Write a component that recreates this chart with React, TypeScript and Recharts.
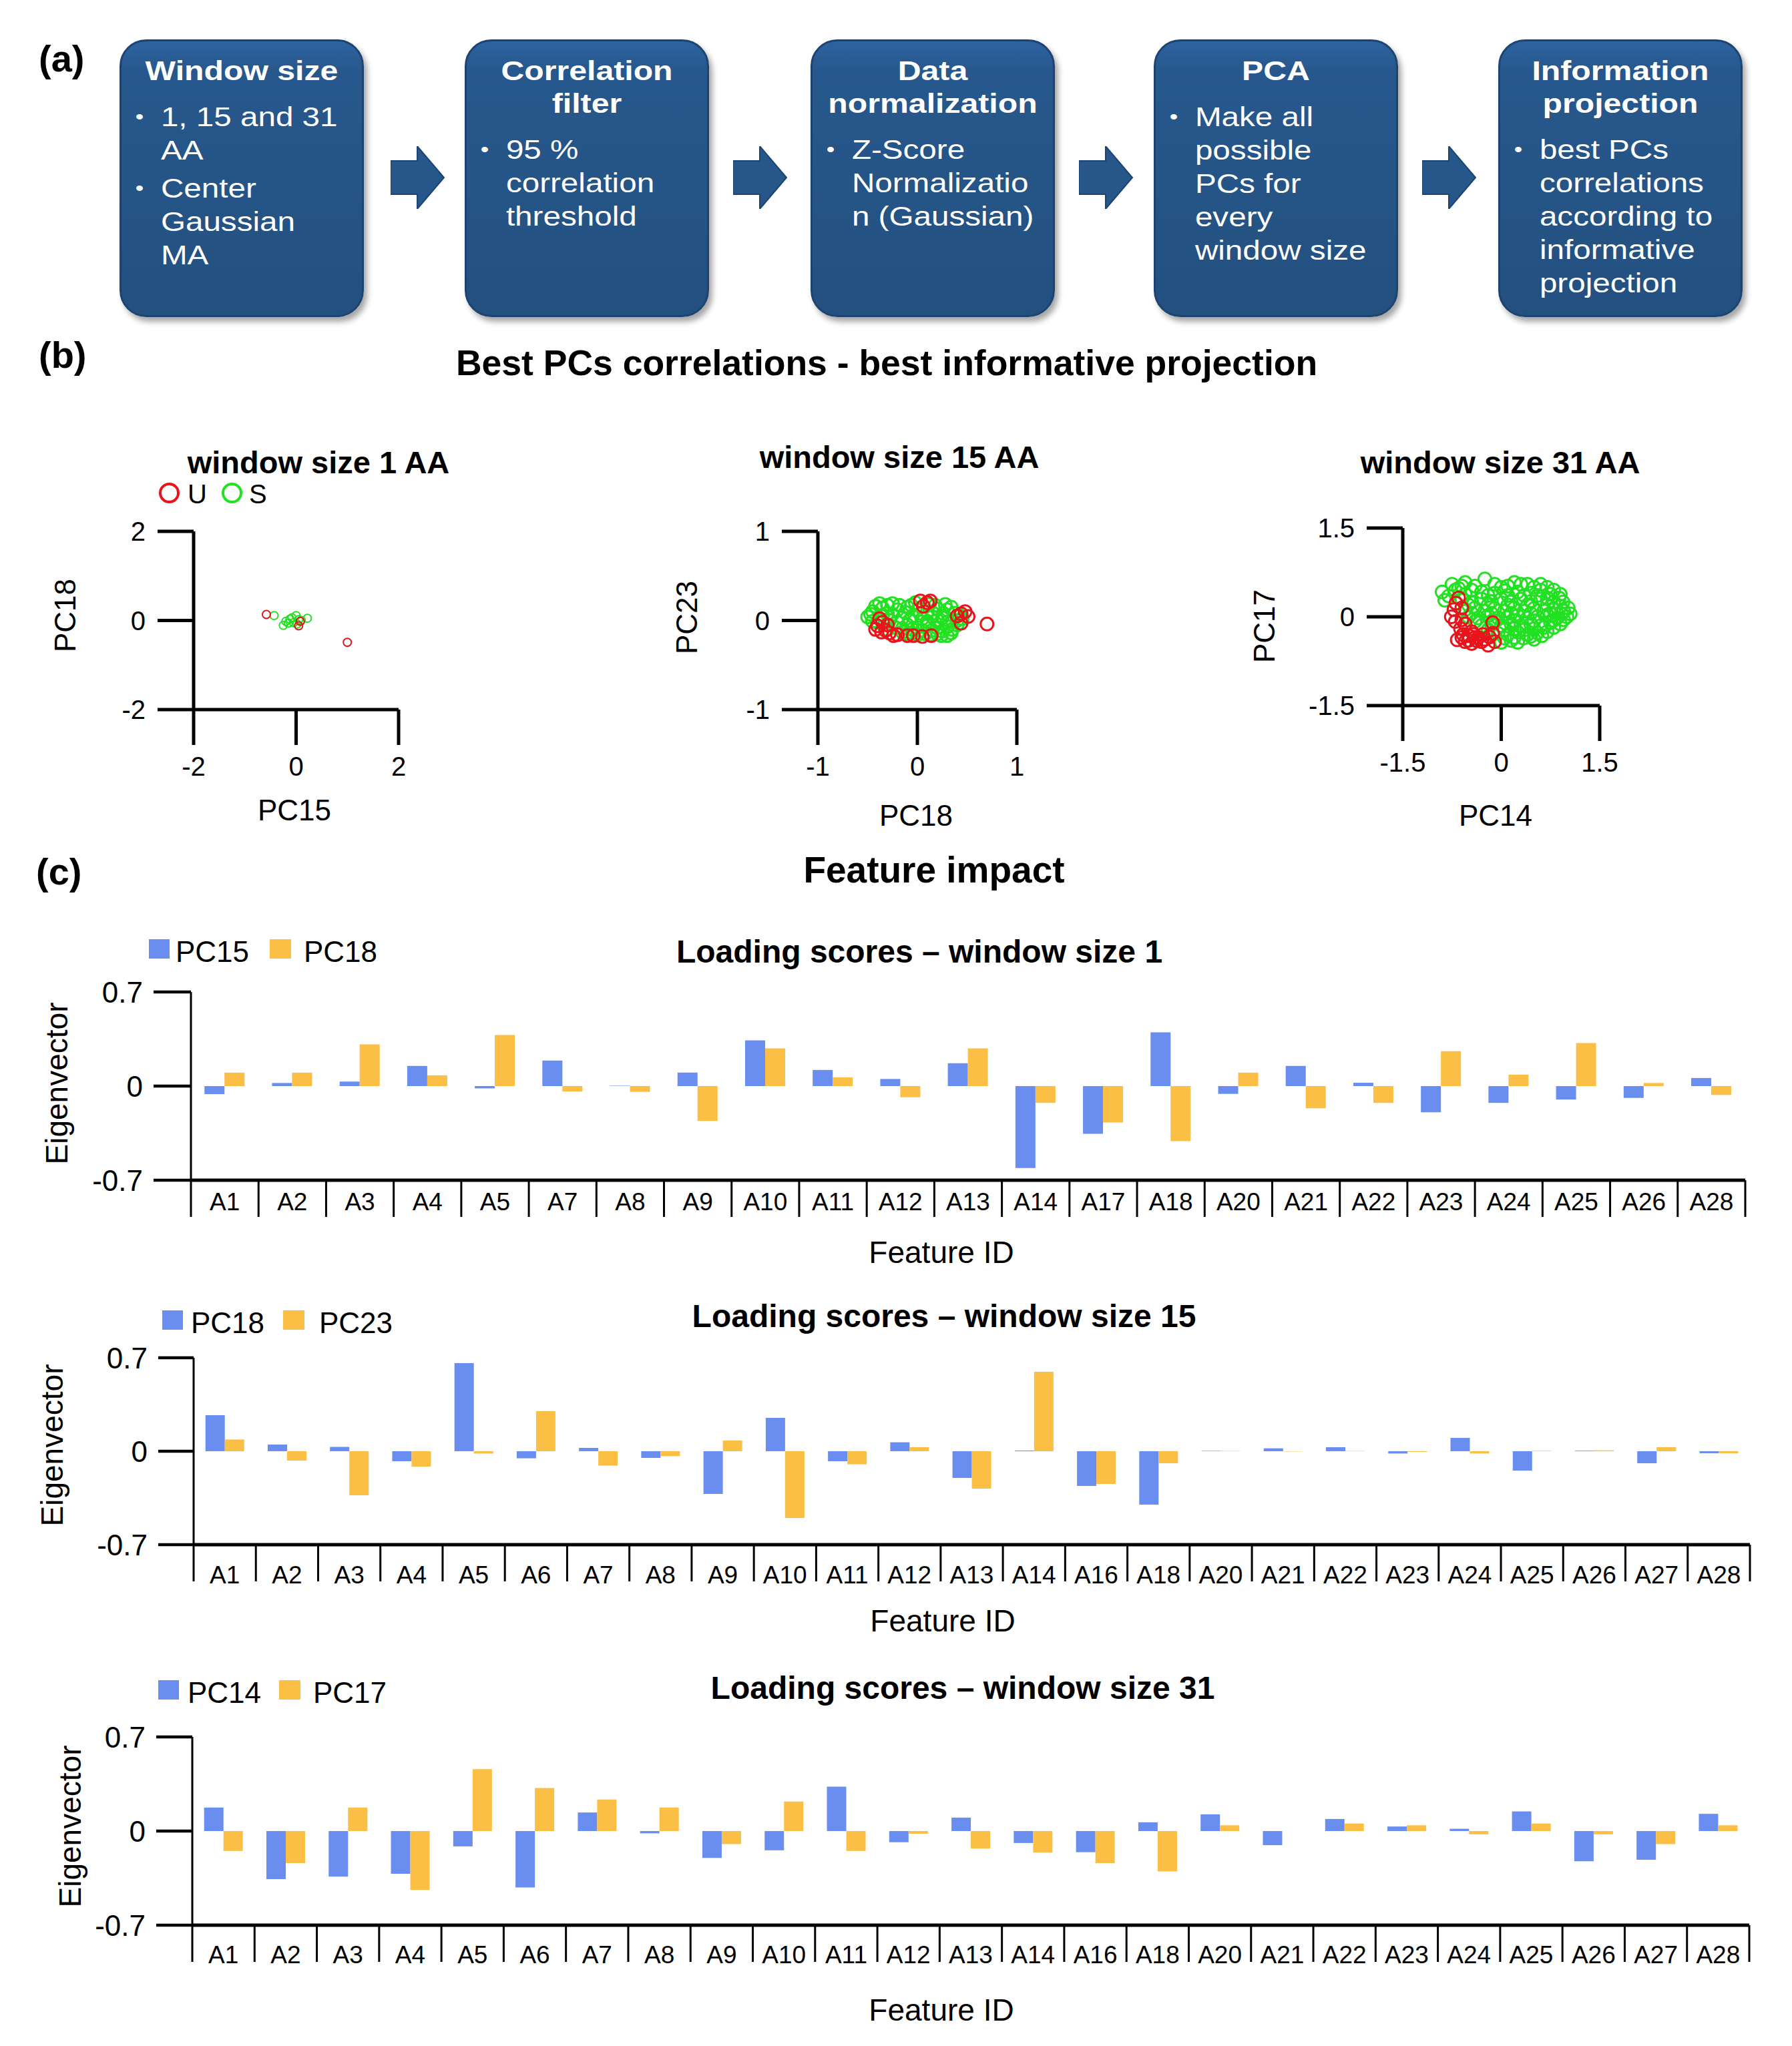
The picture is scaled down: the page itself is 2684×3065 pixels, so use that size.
import React from "react";
import { BarChart, Bar, XAxis, YAxis, ScatterChart, Scatter } from "recharts";

const FONT = '"Liberation Sans", Arial, Helvetica, sans-serif';
const BLUE = "#6a8ef0";
const ORANGE = "#fbbf45";
const RED = "#e8141c";
const GREEN = "#22e022";
const BOX = "#26568a";
const PAGE_W = 2684;
const PAGE_H = 3065;

// ---- (a) workflow text ----
const flowTitles = [
  ["Window size"],
  ["Correlation", "filter"],
  ["Data", "normalization"],
  ["PCA"],
  ["Information", "projection"],
];
const flowBullets = [
  [["1, 15 and 31", "AA"], ["Center", "Gaussian", "MA"]],
  [["95 %", "correlation", "threshold"]],
  [["Z-Score", "Normalizatio", "n (Gaussian)"]],
  [["Make all", "possible", "PCs for", "every", "window size"]],
  [["best PCs", "correlations", "according to", "informative", "projection"]],
];

// ---- (b) PC projections, [x, y] ----
const w1U = [[-0.58, 0.135], [0.05, -0.12], [1.0, -0.49], [0.08, -0.02]];
const w1S = [
  [-0.43, 0.11], [-0.25, -0.11], [-0.12, 0.03], [0.0, 0.11], [0.22, 0.05], [-0.05, -0.05],
  [0.05, 0.02], [-0.15, -0.06], [0.1, 0.0], [0.02, -0.08], [-0.08, 0.06], [-0.2, -0.02],
];

const w15U = [
  [0.03, 0.22], [0.1, 0.2], [0.13, 0.22], [0.06, 0.16], [0.44, 0.075], [0.51, 0.045],
  [0.44, -0.03], [0.4, 0.05], [0.48, 0.1], [-0.35, -0.02], [-0.32, -0.11], [-0.4, -0.06],
  [-0.28, -0.14], [-0.2, -0.16], [-0.1, -0.17], [-0.04, -0.17], [0.05, -0.18], [0.14, -0.17],
  [-0.38, 0.02], [-0.3, -0.05], [0.7, -0.04], [-0.42, -0.1], [-0.36, -0.13], [-0.24, -0.17],
];
const w15S = [
  [-0.5, 0.04], [-0.45, 0.1], [-0.38, 0.19], [-0.25, 0.19], [-0.3, 0.08], [-0.2, 0.12],
  [-0.1, 0.15], [0.0, 0.12], [0.1, 0.1], [0.2, 0.13], [0.3, 0.12], [0.38, 0.08],
  [-0.4, -0.02], [-0.28, 0.0], [-0.15, 0.03], [-0.05, 0.05], [0.05, 0.02], [0.15, 0.04],
  [0.25, 0.03], [0.35, 0.0], [0.45, 0.02], [-0.22, -0.08], [-0.1, -0.05], [0.0, -0.08],
  [0.1, -0.06], [0.2, -0.08], [0.3, -0.07], [0.4, -0.05], [-0.05, -0.14], [0.08, -0.15],
  [0.2, -0.15], [0.24, -0.17], [0.34, -0.14], [-0.15, -0.13], [-0.35, 0.14], [0.12, 0.18],
  [-0.02, 0.2], [0.28, 0.18], [-0.42, 0.16], [-0.3, 0.17], [-0.18, 0.17], [-0.06, 0.17],
  [0.18, 0.17], [0.34, 0.15], [-0.47, 0.07], [-0.35, 0.06], [-0.25, 0.07], [-0.12, 0.09],
  [0.03, 0.08], [0.16, 0.08], [0.26, 0.08], [0.42, 0.06], [-0.45, -0.01], [-0.2, -0.02],
  [-0.08, 0.0], [0.1, -0.01], [0.2, 0.0], [0.3, -0.02], [0.4, 0.0], [-0.3, -0.1],
  [-0.15, -0.09], [-0.05, -0.1], [0.05, -0.11], [0.15, -0.11], [0.25, -0.12], [0.35, -0.1],
  [-0.1, -0.15], [0.0, -0.16], [0.13, -0.16], [0.3, -0.17],
];

const w31U = [
  [-0.69, 0.23], [-0.72, 0.12], [-0.76, 0.0], [-0.7, -0.08], [-0.6, -0.05], [-0.55, -0.12],
  [-0.62, -0.2], [-0.67, -0.39], [-0.58, -0.3], [-0.5, -0.32], [-0.42, -0.3], [-0.35, -0.35],
  [-0.28, -0.3], [-0.2, -0.48], [-0.18, -0.34], [-0.13, -0.28], [-0.13, -0.1], [-0.45, -0.25],
  [-0.38, -0.4], [-0.3, -0.42], [-0.65, 0.32], [-0.6, 0.15], [-0.55, -0.42], [-0.45, -0.45],
  [-0.25, -0.38], [-0.1, -0.42], [-0.6, -0.35], [-0.5, -0.4], [-0.4, -0.35],
];
const w31S = [
  [-0.75, 0.55], [-0.55, 0.58], [-0.25, 0.64], [-0.1, 0.55], [0.1, 0.52], [0.3, 0.55], [0.5, 0.5], [0.7, 0.5],
  [-0.9, 0.42], [-0.7, 0.45], [-0.45, 0.45], [-0.3, 0.42], [-0.1, 0.4], [0.05, 0.44], [0.25, 0.42],
  [0.45, 0.4], [0.6, 0.45], [0.75, 0.38], [-0.86, 0.28], [-0.6, 0.3], [-0.45, 0.25], [-0.3, 0.3],
  [-0.15, 0.26], [0.0, 0.3], [0.15, 0.25], [0.3, 0.3], [0.45, 0.26], [0.6, 0.3], [0.8, 0.25], [0.94, 0.25],
  [-0.55, 0.12], [-0.4, 0.15], [-0.25, 0.1], [-0.1, 0.14], [0.05, 0.1], [0.2, 0.15], [0.35, 0.1],
  [0.5, 0.14], [0.65, 0.1], [0.8, 0.12], [0.95, 0.1], [-0.5, 0.0], [-0.35, -0.02], [-0.2, 0.02],
  [-0.05, -0.02], [0.1, 0.0], [0.25, 0.02], [0.4, -0.02], [0.55, 0.0], [0.7, 0.03], [0.85, -0.02],
  [1.0, 0.0], [-0.3, -0.15], [-0.15, -0.12], [0.0, -0.15], [0.15, -0.12], [0.3, -0.15], [0.45, -0.12],
  [0.6, -0.15], [0.75, -0.1], [0.9, -0.12], [-0.05, -0.28], [0.1, -0.3], [0.25, -0.26], [0.4, -0.3],
  [0.55, -0.27], [0.7, -0.25], [0.0, -0.43], [0.15, -0.4], [0.34, -0.36], [0.5, -0.38], [0.2, 0.58],
  [-0.6, 0.52], [0.9, 0.38], [0.62, -0.32], [-0.65, 0.48], [-0.4, 0.52], [0.0, 0.5], [0.4, 0.55],
  [0.6, 0.55], [0.8, 0.45], [-0.8, 0.35], [-0.55, 0.38], [-0.2, 0.36], [0.1, 0.36], [0.35, 0.36],
  [0.55, 0.36], [0.7, 0.32], [0.88, 0.32], [-0.5, 0.2], [-0.2, 0.2], [0.1, 0.2], [0.4, 0.2],
  [0.7, 0.2], [0.9, 0.18], [1.02, 0.15], [-0.45, 0.06], [-0.15, 0.06], [0.15, 0.06], [0.45, 0.06],
  [0.75, 0.06], [0.92, 0.05], [1.05, 0.05], [-0.4, -0.08], [-0.1, -0.07], [0.2, -0.07], [0.5, -0.07],
  [0.8, -0.06], [0.95, -0.05], [-0.2, -0.22], [0.05, -0.22], [0.2, -0.2], [0.35, -0.22], [0.5, -0.2],
  [0.65, -0.18], [0.8, -0.18], [0.05, -0.36], [0.2, -0.35], [0.45, -0.33], [0.25, -0.43],
];

// ---- (c) loading scores ----
const featuresW1 = ["A1", "A2", "A3", "A4", "A5", "A7", "A8", "A9", "A10", "A11", "A12", "A13", "A14", "A17", "A18", "A20", "A21", "A22", "A23", "A24", "A25", "A26", "A28"];
const pc15W1 = [-0.06, 0.023, 0.033, 0.15, -0.017, 0.19, 0.003, 0.1, 0.34, 0.12, 0.053, 0.17, -0.61, -0.355, 0.4, -0.058, 0.15, 0.025, -0.195, -0.125, -0.1, -0.088, 0.06];
const pc18W1 = [0.1, 0.1, 0.31, 0.08, 0.38, -0.04, -0.043, -0.26, 0.28, 0.065, -0.083, 0.28, -0.125, -0.27, -0.41, 0.1, -0.165, -0.125, 0.26, 0.085, 0.32, 0.023, -0.066];

const featuresW15 = ["A1", "A2", "A3", "A4", "A5", "A6", "A7", "A8", "A9", "A10", "A11", "A12", "A13", "A14", "A16", "A18", "A20", "A21", "A22", "A23", "A24", "A25", "A26", "A27", "A28"];
const pc18W15 = [0.27, 0.05, 0.033, -0.075, 0.66, -0.053, 0.025, -0.05, -0.32, 0.25, -0.075, 0.067, -0.2, 0.005, -0.26, -0.4, 0.003, 0.022, 0.03, -0.017, 0.1, -0.145, 0.004, -0.09, -0.015];
const pc23W15 = [0.088, -0.07, -0.33, -0.115, -0.017, 0.3, -0.108, -0.037, 0.08, -0.5, -0.098, 0.03, -0.28, 0.595, -0.245, -0.09, 0.002, -0.002, 0.002, -0.005, -0.017, 0.003, 0.007, 0.03, -0.015];

const featuresW31 = ["A1", "A2", "A3", "A4", "A5", "A6", "A7", "A8", "A9", "A10", "A11", "A12", "A13", "A14", "A16", "A18", "A20", "A21", "A22", "A23", "A24", "A25", "A26", "A27", "A28"];
const pc14W31 = [0.175, -0.357, -0.339, -0.318, -0.114, -0.42, 0.138, -0.017, -0.2, -0.143, 0.33, -0.083, 0.1, -0.089, -0.157, 0.065, 0.124, -0.105, 0.09, 0.034, 0.017, 0.146, -0.225, -0.213, 0.128];
const pc17W31 = [-0.148, -0.238, 0.175, -0.438, 0.46, 0.32, 0.235, 0.175, -0.097, 0.22, -0.148, -0.02, -0.13, -0.16, -0.238, -0.3, 0.043, 0, 0.056, 0.043, -0.024, 0.056, -0.024, -0.097, 0.043];

const boxLefts = [179, 696, 1214, 1728, 2244];
const arrowLefts = [585, 1098, 1616, 2130];

// text placed by its cap-height top
const Txt = ({ x, capTop, size, bold = false, center = false, children }: any) => (
  <div
    style={{
      position: "absolute",
      left: center ? x - 900 : x,
      width: center ? 1800 : undefined,
      top: capTop - 0.114 * size,
      fontSize: size,
      lineHeight: `${size}px`,
      fontWeight: bold ? 700 : 400,
      textAlign: center ? "center" : "left",
      whiteSpace: "nowrap",
    }}
  >
    {children}
  </div>
);

const VTxt = ({ cx, cy, size, children }: any) => (
  <div
    style={{
      position: "absolute",
      left: cx - 300,
      top: cy - size / 2,
      width: 600,
      fontSize: size,
      lineHeight: `${size}px`,
      textAlign: "center",
      transform: "rotate(-90deg)",
      whiteSpace: "nowrap",
    }}
  >
    {children}
  </div>
);

const FlowBox = ({ left, titles, bullets }: any) => {
  const sx = 1.19;
  return (
    <div
      style={{
        position: "absolute",
        left,
        top: 59,
        width: 366,
        height: 416,
        borderRadius: 40,
        boxSizing: "border-box",
        border: "3px solid #1d4471",
        background: "linear-gradient(180deg, #2e63a0 0%, #27588d 10%, #23507f 100%)",
        boxShadow: "5px 7px 9px rgba(0,0,0,0.35)",
        color: "#fff",
        overflow: "hidden",
      }}
    >
      <div style={{ position: "absolute", left: -3, top: 20, width: 366 / sx, transform: `scaleX(${sx})`, transformOrigin: "0 0" }}>
        {titles.map((t: string) => (
          <div key={t} style={{ textAlign: "center", fontWeight: 700, fontSize: 40.5, lineHeight: "49px", whiteSpace: "nowrap" }}>
            {t}
          </div>
        ))}
        <div style={{ height: 19 }} />
        {bullets.map((para: string[], i: number) => (
          <div key={i} style={{ position: "relative", marginTop: i ? 7 : 0, paddingLeft: 52, fontSize: 40, lineHeight: "50px" }}>
            <span style={{ position: "absolute", left: 20, fontSize: 30 }}>•</span>
            {para.map((l) => (
              <div key={l} style={{ whiteSpace: "nowrap" }}>{l}</div>
            ))}
          </div>
        ))}
      </div>
    </div>
  );
};

const Arrow = ({ left }: any) => (
  <svg style={{ position: "absolute", left, top: 219 }} width={82} height={94}>
    <polygon points="0,22 40,22 40,0 80,47 40,94 40,72 0,72" fill={BOX} stroke="#1d4471" strokeWidth={2} />
  </svg>
);

const ring = (color: string, r: number, sw: number) => (props: any) =>
  <circle cx={props.cx} cy={props.cy} r={r} fill="none" stroke={color} strokeWidth={sw} />;

const toPts = (arr: number[][]) => arr.map(([x, y]) => ({ x, y }));

const ProjectionPlot = ({ left, top, width, height, plotLeft, plotRight, plotTop, plotBottom, domain, ticks, u, s, r, sw }: any) => {
  const axisFont = { fill: "#000", fontSize: 40, fontFamily: FONT };
  return (
    <div style={{ position: "absolute", left, top }}>
      <ScatterChart width={width} height={height} margin={{ top: plotTop, right: width - plotRight, bottom: 0, left: 0 }}>
        <XAxis
          type="number"
          dataKey="x"
          domain={domain}
          ticks={ticks}
          allowDataOverflow
          height={height - plotBottom}
          axisLine={{ stroke: "#000", strokeWidth: 5 }}
          tickLine={{ stroke: "#000", strokeWidth: 5 }}
          tickSize={53}
          tickMargin={18}
          tick={axisFont}
        />
        <YAxis
          type="number"
          dataKey="y"
          domain={domain}
          ticks={ticks}
          allowDataOverflow
          width={plotLeft}
          axisLine={{ stroke: "#000", strokeWidth: 5 }}
          tickLine={{ stroke: "#000", strokeWidth: 5 }}
          tickSize={54}
          tickMargin={18}
          tick={axisFont}
        />
        <Scatter data={toPts(s)} shape={ring(GREEN, r, sw)} isAnimationActive={false} />
        <Scatter data={toPts(u)} shape={ring(RED, r, sw)} isAnimationActive={false} />
      </ScatterChart>
    </div>
  );
};

const CatTick = ({ x, y, payload, index, band, n, dy }: any) => (
  <g>
    <line x1={x - band / 2} x2={x - band / 2} y1={y} y2={y + 55} stroke="#000" strokeWidth={3} />
    {index === n - 1 && <line x1={x + band / 2} x2={x + band / 2} y1={y} y2={y + 55} stroke="#000" strokeWidth={3} />}
    <text x={x} y={y + dy} textAnchor="middle" dominantBaseline="central" fontSize={37} fontFamily={FONT} fill="#000">
      {payload.value}
    </text>
  </g>
);

const LoadingChart = ({ top, cats, a, b, nameA, nameB, plotLeft, plotRight, plotTop, plotHeight, yTick, labelDy, gap }: any) => {
  const data = cats.map((c: string, i: number) => ({ id: c, [nameA]: a[i], [nameB]: b[i] }));
  const band = (plotRight - plotLeft) / cats.length;
  const xHeight = 90;
  return (
    <div style={{ position: "absolute", left: 0, top }}>
      <BarChart
        width={PAGE_W}
        height={plotTop + plotHeight + xHeight}
        data={data}
        margin={{ top: plotTop, right: PAGE_W - plotRight, bottom: 0, left: 0 }}
        barGap={0}
        barCategoryGap={gap}
      >
        <XAxis
          dataKey="id"
          interval={0}
          height={xHeight}
          tickLine={false}
          tickSize={0}
          tickMargin={0}
          axisLine={{ stroke: "#000", strokeWidth: 5 }}
          tick={(p: any) => <CatTick {...p} band={band} n={cats.length} dy={labelDy} />}
        />
        <YAxis
          type="number"
          width={plotLeft}
          domain={[-0.7, 0.7]}
          ticks={[-0.7, 0, 0.7]}
          allowDataOverflow
          tickFormatter={(v: number) => String(v)}
          axisLine={{ stroke: "#000", strokeWidth: 3 }}
          tickLine={{ stroke: "#000", strokeWidth: 4.5 }}
          tickSize={yTick}
          tickMargin={16}
          tick={{ fill: "#000", fontSize: 44, fontFamily: FONT }}
        />
        <Bar dataKey={nameA} fill={BLUE} isAnimationActive={false} />
        <Bar dataKey={nameB} fill={ORANGE} isAnimationActive={false} />
      </BarChart>
    </div>
  );
};

const BarLegend = ({ x1, x2, tx1, tx2, top, nameA, nameB }: any) => (
  <>
    <div style={{ position: "absolute", left: x1, top, width: 31, height: 29, background: BLUE }} />
    <Txt x={tx1} capTop={top + 2} size={44}>{nameA}</Txt>
    <div style={{ position: "absolute", left: x2, top, width: 32, height: 29, background: ORANGE }} />
    <Txt x={tx2} capTop={top + 2} size={44}>{nameB}</Txt>
  </>
);

const Circle = ({ left, top, color }: any) => (
  <div style={{ position: "absolute", left, top, width: 31, height: 31, boxSizing: "border-box", borderRadius: "50%", border: `4px solid ${color}` }} />
);

export default function App() {
  return (
    <div style={{ position: "absolute", left: 0, top: 0, width: PAGE_W, height: PAGE_H, background: "#fff", fontFamily: FONT, color: "#000", overflow: "hidden" }}>
      {/* (a) */}
      <Txt x={58} capTop={66} size={56} bold>(a)</Txt>
      {boxLefts.map((l, i) => (
        <FlowBox key={l} left={l} titles={flowTitles[i]} bullets={flowBullets[i]} />
      ))}
      {arrowLefts.map((l) => (
        <Arrow key={l} left={l} />
      ))}

      {/* (b) */}
      <Txt x={58} capTop={510} size={56} bold>(b)</Txt>
      <Txt x={1328} capTop={523} size={53.5} bold center>Best PCs correlations - best informative projection</Txt>

      <Txt x={477} capTop={674} size={47} bold center>window size 1 AA</Txt>
      <Txt x={1347} capTop={666} size={47} bold center>window size 15 AA</Txt>
      <Txt x={2247} capTop={674} size={47} bold center>window size 31 AA</Txt>

      <Circle left={238} top={723} color={RED} />
      <Txt x={281} capTop={725} size={40}>U</Txt>
      <Circle left={332} top={723} color={GREEN} />
      <Txt x={373} capTop={725} size={40}>S</Txt>

      <ProjectionPlot left={0} top={640} width={700} height={560} plotLeft={290} plotRight={597} plotTop={156} plotBottom={423}
        domain={[-2, 2]} ticks={[-2, 0, 2]} u={w1U} s={w1S} r={6} sw={2} />
      <ProjectionPlot left={960} top={640} width={640} height={560} plotLeft={265} plotRight={563} plotTop={156} plotBottom={423}
        domain={[-1, 1]} ticks={[-1, 0, 1]} u={w15U} s={w15S} r={9.5} sw={3} />
      <ProjectionPlot left={1800} top={640} width={700} height={560} plotLeft={301} plotRight={596} plotTop={151} plotBottom={417}
        domain={[-1.5, 1.5]} ticks={[-1.5, 0, 1.5]} u={w31U} s={w31S} r={9.5} sw={3} />

      <Txt x={441} capTop={1197} size={44} center>PC15</Txt>
      <Txt x={1372} capTop={1205} size={44} center>PC18</Txt>
      <Txt x={2240} capTop={1205} size={44} center>PC14</Txt>
      <VTxt cx={98} cy={922} size={44}>PC18</VTxt>
      <VTxt cx={1029} cy={925} size={44}>PC23</VTxt>
      <VTxt cx={1894} cy={938} size={44}>PC17</VTxt>

      {/* (c) */}
      <Txt x={54} capTop={1284} size={56} bold>(c)</Txt>
      <Txt x={1399} capTop={1282} size={55} bold center>Feature impact</Txt>

      <Txt x={1377} capTop={1407} size={48} bold center>Loading scores – window size 1</Txt>
      <BarLegend x1={223} x2={404} tx1={263} tx2={455} top={1407} nameA="PC15" nameB="PC18" />
      <LoadingChart top={1380} cats={featuresW1} a={pc15W1} b={pc18W1} nameA="PC15" nameB="PC18"
        plotLeft={286} plotRight={2614} plotTop={106} plotHeight={282} yTick={56} labelDy={32} gap="20%" />
      <VTxt cx={85} cy={1623} size={46}>Eigenvector</VTxt>
      <Txt x={1410} capTop={1858} size={46} center>Feature ID</Txt>

      <Txt x={1414} capTop={1953} size={48} bold center>Loading scores – window size 15</Txt>
      <BarLegend x1={243} x2={424} tx1={286} tx2={478} top={1963} nameA="PC18" nameB="PC23" />
      <LoadingChart top={1940} cats={featuresW15} a={pc18W15} b={pc23W15} nameA="PC18" nameB="PC23"
        plotLeft={290} plotRight={2621} plotTop={94} plotHeight={280} yTick={53} labelDy={45} gap="19%" />
      <VTxt cx={78} cy={2165} size={46}>Eigenvector</VTxt>
      <Txt x={1412} capTop={2410} size={46} center>Feature ID</Txt>

      <Txt x={1442} capTop={2510} size={48} bold center>Loading scores – window size 31</Txt>
      <BarLegend x1={237} x2={418} tx1={281} tx2={469} top={2517} nameA="PC14" nameB="PC17" />
      <LoadingChart top={2500} cats={featuresW31} a={pc14W31} b={pc17W31} nameA="PC14" nameB="PC17"
        plotLeft={288} plotRight={2620} plotTop={102} plotHeight={282} yTick={54} labelDy={44} gap="19%" />
      <VTxt cx={105} cy={2736} size={46}>Eigenvector</VTxt>
      <Txt x={1410} capTop={2993} size={46} center>Feature ID</Txt>
    </div>
  );
}
